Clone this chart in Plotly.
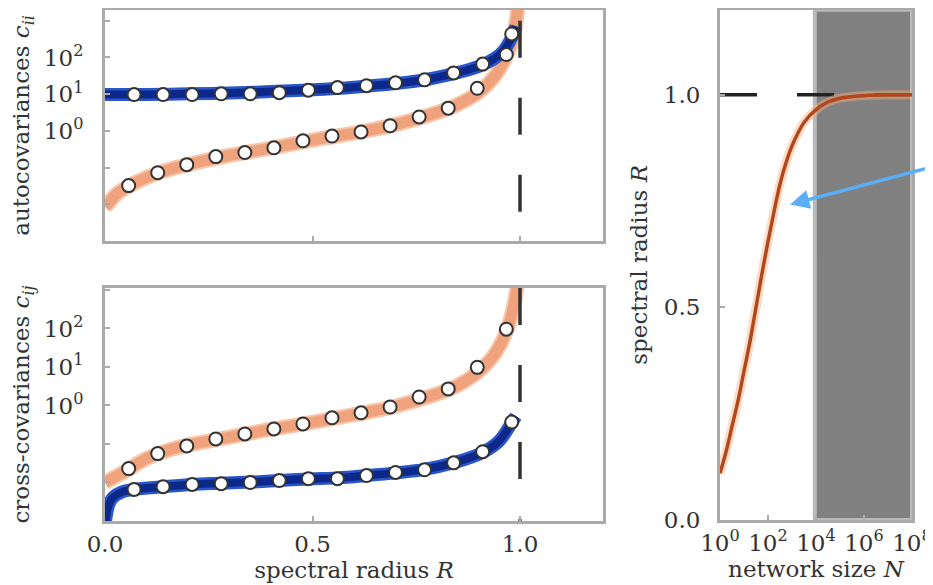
import numpy as np
import plotly.graph_objects as go

# ---------------- data ----------------
# markers: blue series at R = 0.07 k, orange series slightly shifted
R_BLUE_PTS = [0.07, 0.14, 0.21, 0.28, 0.35, 0.42, 0.49, 0.56, 0.63, 0.70, 0.77, 0.84, 0.91, 0.98]
R_ORANGE_PTS = [0.057, 0.127, 0.197, 0.267, 0.337, 0.407, 0.477, 0.547, 0.617, 0.687, 0.757, 0.827, 0.897, 0.967]

# log10 of autocovariances (top panel)
AUTO_BLUE_LOG = [0.99, 0.99, 0.99, 1.01, 1.01, 1.04, 1.11, 1.18, 1.23, 1.31, 1.39, 1.58, 1.82, 2.64]
AUTO_ORANGE_LOG = [-1.49, -1.14, -0.92, -0.70, -0.59, -0.46, -0.27, -0.14, -0.03, 0.14, 0.38, 0.62, 1.16, 2.08]
# log10 of cross-covariances (bottom panel)
CROSS_BLUE_LOG = [-2.18, -2.11, -2.05, -2.03, -2.00, -1.95, -1.90, -1.90, -1.82, -1.74, -1.67, -1.49, -1.20, -0.43]
CROSS_ORANGE_LOG = [-1.64, -1.25, -1.05, -0.87, -0.74, -0.61, -0.48, -0.32, -0.19, -0.04, 0.22, 0.43, 0.99, 1.98]

# theory curves (R, log10 value)
AUTO_BLUE_CURVE_R = [0.0, 0.1, 0.2, 0.3, 0.4, 0.5, 0.6, 0.7, 0.77, 0.84, 0.88, 0.91, 0.94, 0.96, 0.98, 0.99]
AUTO_BLUE_CURVE_LOG = [0.99, 0.99, 1.01, 1.03, 1.07, 1.12, 1.19, 1.29, 1.39, 1.56, 1.68, 1.80, 1.98, 2.18, 2.55, 2.85]
AUTO_ORANGE_CURVE_R = [0.0, 0.01, 0.025, 0.05, 0.1, 0.15, 0.2, 0.3, 0.4, 0.5, 0.6, 0.7, 0.8, 0.85, 0.9, 0.94, 0.97, 0.985, 0.995]
AUTO_ORANGE_CURVE_LOG = [-2.07, -1.95, -1.75, -1.55, -1.27, -1.07, -0.92, -0.67, -0.47, -0.25, -0.06, 0.17, 0.50, 0.72, 1.05, 1.50, 2.10, 2.60, 3.40]
CROSS_BLUE_CURVE_R = [0.0, 0.005, 0.01, 0.02, 0.04, 0.07, 0.14, 0.21, 0.28, 0.35, 0.42, 0.49, 0.56, 0.63, 0.70, 0.77, 0.84, 0.91, 0.95, 0.98, 0.99]
CROSS_BLUE_CURVE_LOG = [-3.1, -2.75, -2.55, -2.38, -2.25, -2.18, -2.11, -2.05, -2.02, -1.99, -1.95, -1.91, -1.88, -1.82, -1.75, -1.66, -1.49, -1.22, -0.92, -0.45, -0.28]
CROSS_ORANGE_CURVE_R = [0.0, 0.02, 0.05, 0.1, 0.15, 0.2, 0.3, 0.4, 0.5, 0.6, 0.7, 0.8, 0.85, 0.9, 0.94, 0.97, 0.985, 0.995]
CROSS_ORANGE_CURVE_LOG = [-2.00, -1.88, -1.70, -1.38, -1.17, -1.03, -0.82, -0.62, -0.44, -0.24, -0.02, 0.30, 0.52, 0.88, 1.35, 2.00, 2.60, 3.20]

# right panel: spectral radius vs network size
NET_LOGN = [0.0, 0.25, 0.5, 0.75, 1.0, 1.25, 1.5, 1.75, 2.0, 2.25, 2.5, 2.75, 3.0, 3.25, 3.5, 4.0, 4.5, 5.0, 6.0, 7.0, 8.0]
NET_R = [0.11, 0.16, 0.22, 0.28, 0.35, 0.42, 0.50, 0.58, 0.655, 0.725, 0.79, 0.84, 0.88, 0.91, 0.935, 0.965, 0.983, 0.992, 0.998, 1.0, 1.0]

CRITICAL_R = 1.0
SHADE_LOGN = [3.95, 8.0]
ARROW_TIP = (2.92, 0.742)  # (log10 N, R)

X_TICKS = [0.0, 0.5, 1.0]
X_TICK_TEXT = ["0.0", "0.5", "1.0"]
LOG_DECADES = [-3, -2, -1, 0, 1, 2, 3]
LABELED_DECADES = [0, 1, 2]
N_DECADES = [0, 2, 4, 6, 8]
R_TICKS = [0.0, 0.5, 1.0]
R_TICK_TEXT = ["0.0", "0.5", "1.0"]

# ---------------- styling ----------------
FONT = "DejaVu Serif"
TXT = "#333333"
FRAME = "#aaaaaa"
BLUE_OUT, BLUE_IN = "#2b56c8", "#0c288a"
ORANGE = "#f0a27d"
ORANGE_HALO = "#f7c6ab"
BROWN = "#b3471b"
BROWN_HALO = "rgba(250,175,125,0.45)"
DASH = "37px,40px"

W, H = 933, 585
PAGE_OFF = 8  # default body margin of the html page


def dom_x(a, b):
    return [(a - PAGE_OFF) / W, (b - PAGE_OFF) / W]


def dom_y(top, bottom):
    return [1 - (bottom - PAGE_OFF) / H, min(0.997, 1 - (top - PAGE_OFF) / H)]


def p10(vals):
    return [10.0 ** v for v in vals]


fig = go.Figure()


def add_panel(xa, ya, orange_r, orange_log, blue_r, blue_log, pts_orange, pts_blue, ytop):
    fig.add_trace(go.Scatter(x=orange_r, y=p10(orange_log), mode="lines", line_shape="spline",
                             line=dict(color=ORANGE_HALO, width=15), xaxis=xa, yaxis=ya,
                             hoverinfo="skip", showlegend=False))
    fig.add_trace(go.Scatter(x=orange_r, y=p10(orange_log), mode="lines", line_shape="spline",
                             line=dict(color=ORANGE, width=11), xaxis=xa, yaxis=ya,
                             showlegend=False))
    fig.add_trace(go.Scatter(x=blue_r, y=p10(blue_log), mode="lines", line_shape="spline",
                             line=dict(color=BLUE_OUT, width=13), xaxis=xa, yaxis=ya,
                             hoverinfo="skip", showlegend=False))
    fig.add_trace(go.Scatter(x=blue_r, y=p10(blue_log), mode="lines", line_shape="spline",
                             line=dict(color=BLUE_IN, width=8), xaxis=xa, yaxis=ya,
                             showlegend=False))
    fig.add_trace(go.Scatter(x=[CRITICAL_R, CRITICAL_R], y=[10.0 ** ytop, 10.0 ** -3.2], mode="lines",
                             line=dict(color="#333333", width=3.5, dash=DASH), xaxis=xa, yaxis=ya,
                             hoverinfo="skip", showlegend=False))
    mk = dict(color="white", size=13, line=dict(color="#333333", width=2))
    fig.add_trace(go.Scatter(x=R_ORANGE_PTS, y=p10(pts_orange), mode="markers", marker=mk,
                             xaxis=xa, yaxis=ya, showlegend=False))
    fig.add_trace(go.Scatter(x=R_BLUE_PTS, y=p10(pts_blue), mode="markers", marker=mk,
                             xaxis=xa, yaxis=ya, showlegend=False))


add_panel("x", "y", AUTO_ORANGE_CURVE_R, AUTO_ORANGE_CURVE_LOG, AUTO_BLUE_CURVE_R, AUTO_BLUE_CURVE_LOG,
          AUTO_ORANGE_LOG, AUTO_BLUE_LOG, 3.0)
add_panel("x2", "y2", CROSS_ORANGE_CURVE_R, CROSS_ORANGE_CURVE_LOG, CROSS_BLUE_CURVE_R, CROSS_BLUE_CURVE_LOG,
          CROSS_ORANGE_LOG, CROSS_BLUE_LOG, 3.05)

# right panel: shaded region
fig.add_trace(go.Scatter(x=p10([SHADE_LOGN[0], SHADE_LOGN[1], SHADE_LOGN[1], SHADE_LOGN[0], SHADE_LOGN[0]]),
                         y=[0, 0, 1.2, 1.2, 0], mode="lines", fill="toself",
                         fillcolor="#808080", line=dict(color="#b9b9b9", width=4),
                         xaxis="x3", yaxis="y3", hoverinfo="skip", showlegend=False))
fig.add_trace(go.Scatter(x=p10([0, 8]), y=[CRITICAL_R, CRITICAL_R], mode="lines",
                         line=dict(color="#222222", width=3.5, dash=DASH),
                         xaxis="x3", yaxis="y3", hoverinfo="skip", showlegend=False))
fig.add_trace(go.Scatter(x=p10(NET_LOGN), y=NET_R, mode="lines", line_shape="spline",
                         line=dict(color=BROWN_HALO, width=9),
                         xaxis="x3", yaxis="y3", hoverinfo="skip", showlegend=False))
fig.add_trace(go.Scatter(x=p10(NET_LOGN), y=NET_R, mode="lines", line_shape="spline",
                         line=dict(color=BROWN, width=3.5),
                         xaxis="x3", yaxis="y3", showlegend=False))

tickfont = dict(family=FONT, size=23, color=TXT)
titlefont = dict(family=FONT, size=23, color=TXT)
common = dict(showline=True, linecolor=FRAME, linewidth=3, mirror=True, ticks="inside", ticklen=5,
              tickcolor=FRAME, tickwidth=1.5, showgrid=False, zeroline=False, tickfont=tickfont,
              automargin=False)

log_ticktext = [f"10<sup>{d}</sup>" if d in LABELED_DECADES else "" for d in LOG_DECADES]

fig.update_layout(
    width=W, height=H, margin=dict(l=0, r=0, t=0, b=0),
    paper_bgcolor="white", plot_bgcolor="white",
    font=dict(family=FONT, color=TXT),
    xaxis=dict(domain=dom_x(105, 603), range=[0, 1.2], anchor="y", tickvals=X_TICKS,
               showticklabels=False, **common),
    yaxis=dict(domain=dom_y(8, 241), type="log", range=[-3, 3.3], anchor="x",
               tickvals=p10(LOG_DECADES), ticktext=log_ticktext, ticklabelstandoff=14,
               title=dict(text="autocovariances <i>c</i><sub><i>ii</i></sub>", font=titlefont, standoff=14),
               **common),
    xaxis2=dict(domain=dom_x(105, 603), range=[0, 1.2], anchor="y2", tickvals=X_TICKS,
                ticktext=X_TICK_TEXT,
                title=dict(text="spectral radius <i>R</i>", font=titlefont, standoff=0), **common),
    yaxis2=dict(domain=dom_y(288, 521), type="log", range=[-3, 3.05], anchor="x2",
                tickvals=p10(LOG_DECADES), ticktext=log_ticktext, ticklabelstandoff=14,
                title=dict(text="cross-covariances <i>c</i><sub><i>ij</i></sub>", font=titlefont, standoff=14),
                **common),
    xaxis3=dict(domain=dom_x(720, 912), type="log", range=[0, 8], anchor="y3",
                tickvals=p10(N_DECADES), ticktext=[f"10<sup>{d}</sup>" for d in N_DECADES],
                title=dict(text="network size <i>N</i>", font=titlefont, standoff=0), **common),
    yaxis3=dict(domain=dom_y(8, 520), range=[0, 1.2], anchor="x3",
                tickvals=R_TICKS, ticktext=R_TICK_TEXT, ticklabelstandoff=12,
                title=dict(text="spectral radius <i>R</i>", font=titlefont, standoff=10), **common),
    annotations=[dict(x=ARROW_TIP[0], y=ARROW_TIP[1], xref="x3", yref="y3", text="",
                      showarrow=True, arrowhead=2, arrowsize=1.1, arrowwidth=3.5,
                      arrowcolor="#5aaef5", ax=160, ay=-40)],
)

fig.write_html("out.html")
